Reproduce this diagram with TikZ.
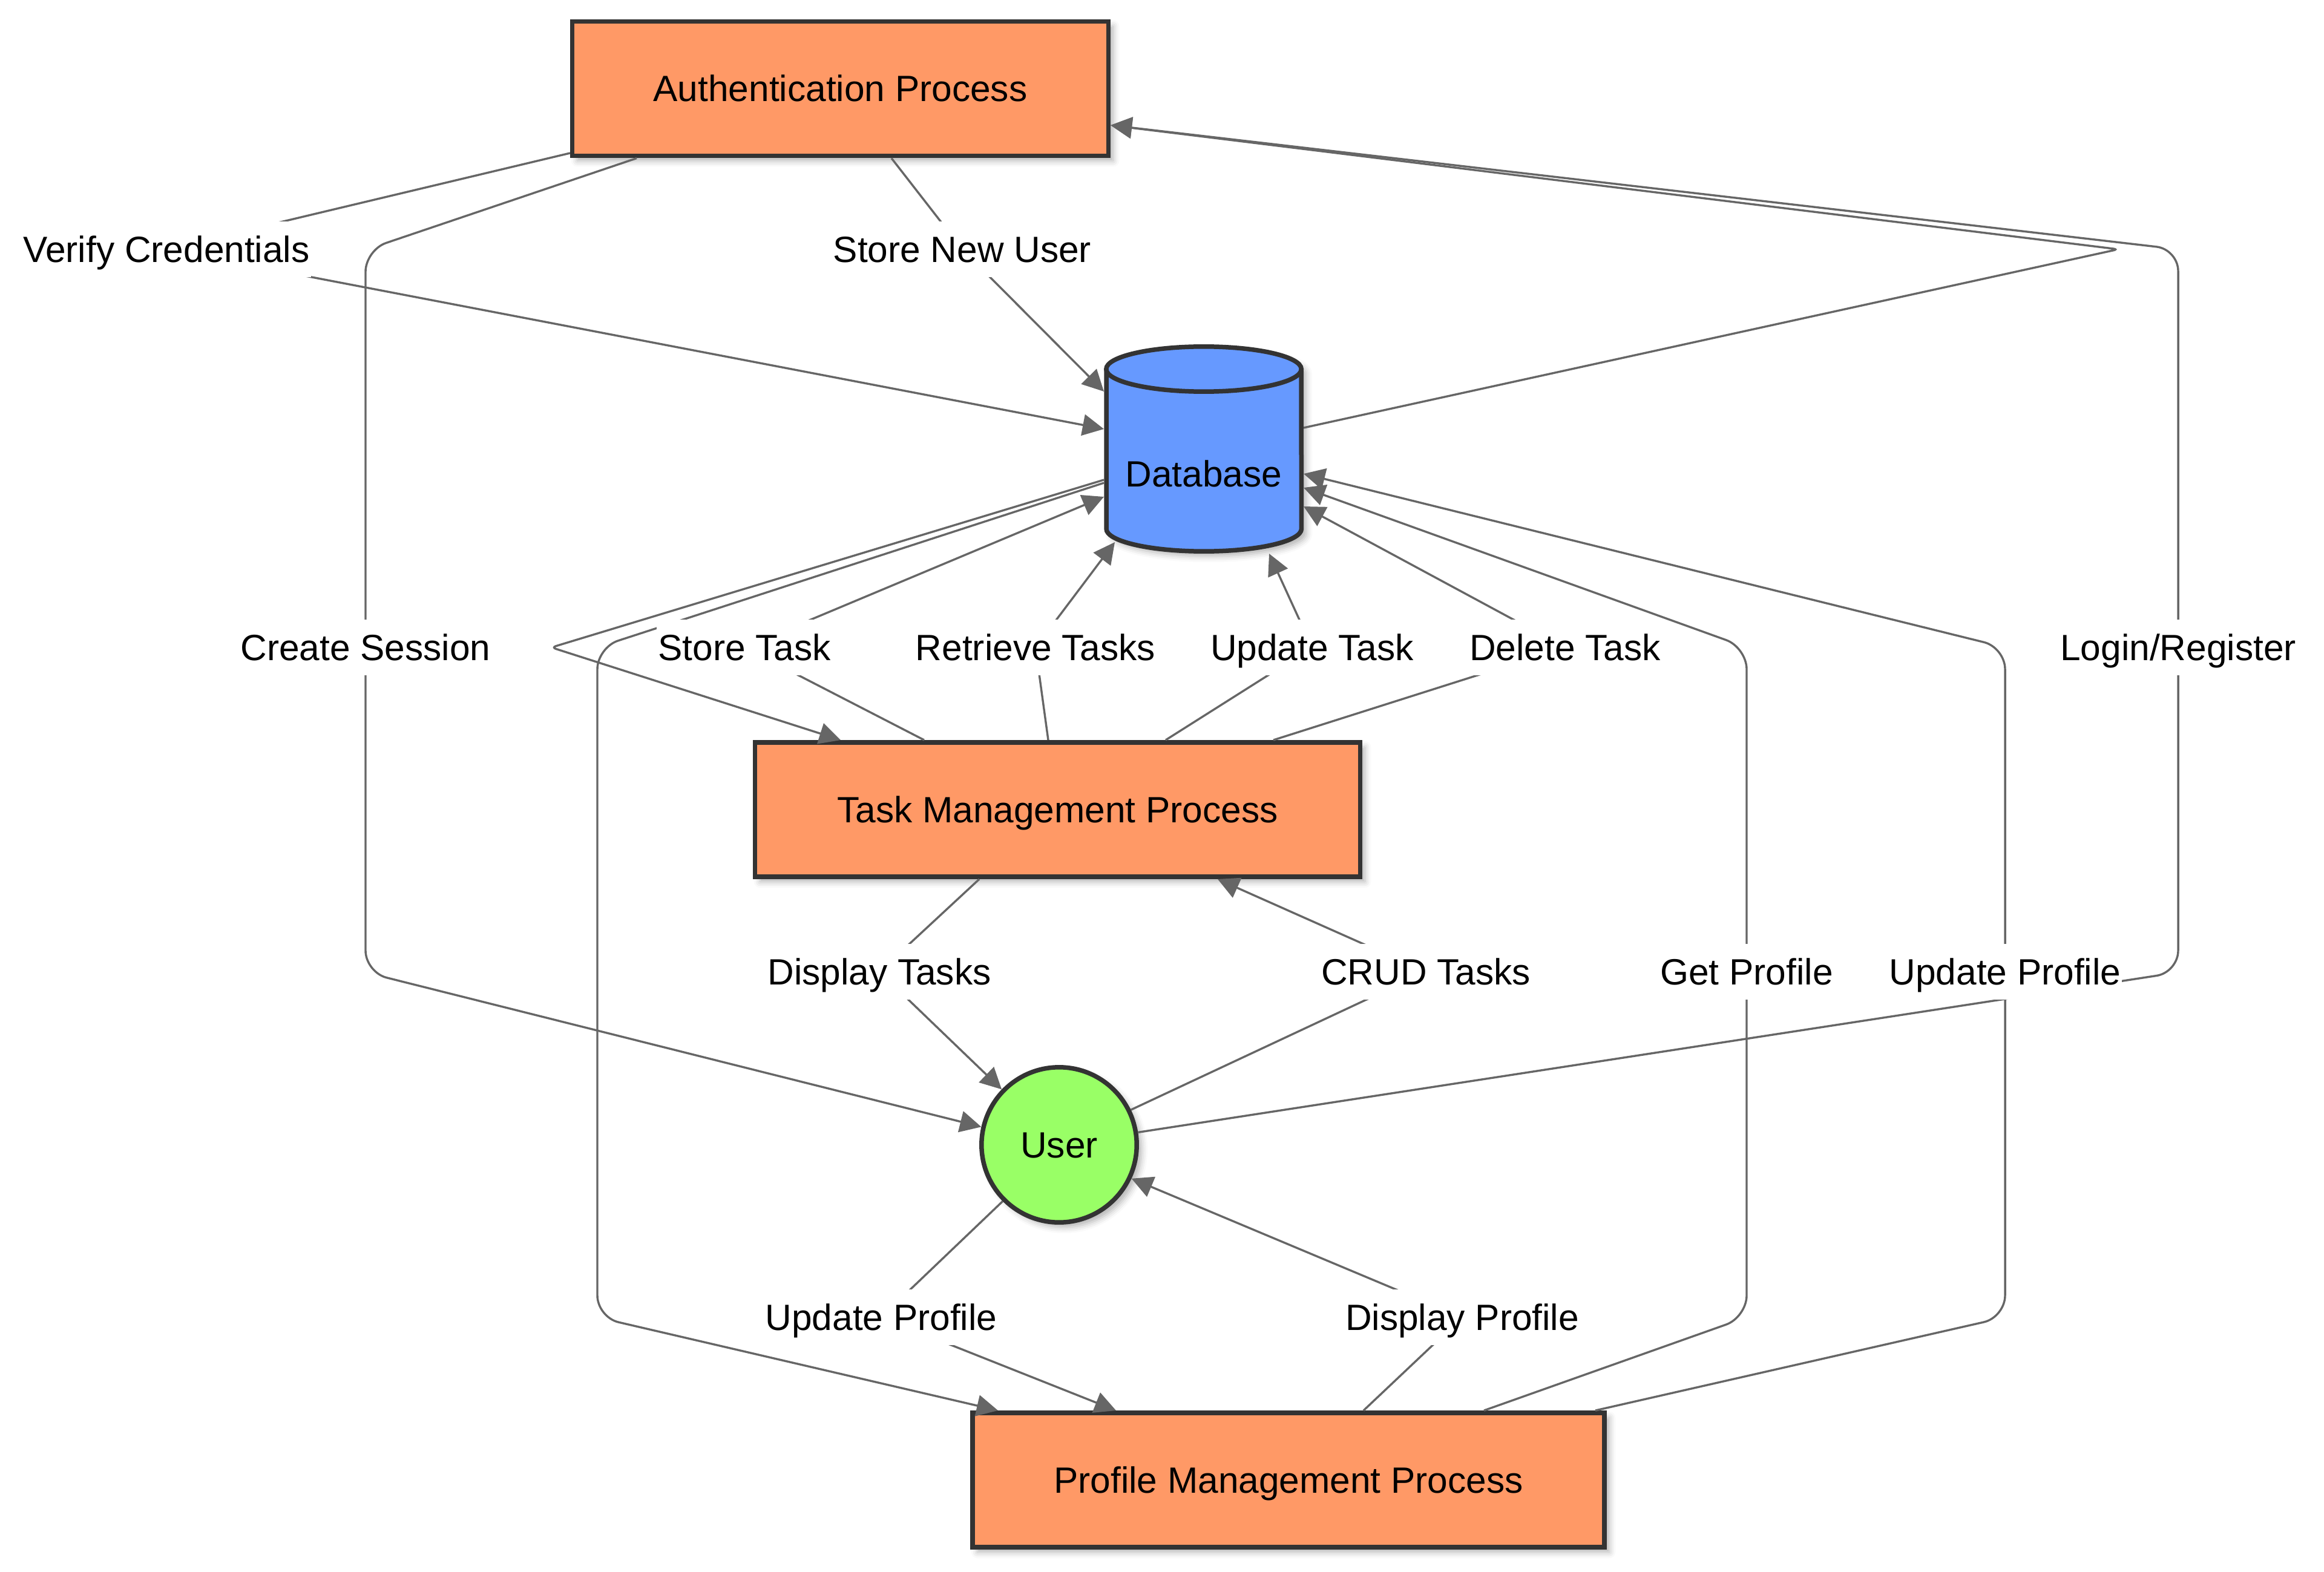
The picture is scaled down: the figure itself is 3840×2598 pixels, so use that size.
\documentclass[tikz,border=0pt]{standalone}
\usepackage{fontspec}
\setmainfont{Liberation Sans}
\usetikzlibrary{arrows.meta,shadows.blur}
\definecolor{procfill}{HTML}{FF9966}
\definecolor{dbfill}{HTML}{6699FF}
\definecolor{userfill}{HTML}{99FF66}
\definecolor{bordercol}{HTML}{333333}
\definecolor{edgecol}{HTML}{666666}
\begin{document}
\begin{tikzpicture}[x=0.25pt,y=-0.25pt,
  font=\fontsize{15.1pt}{18pt}\selectfont,
  every node/.style={text height=11pt,text depth=0.3pt},
  shadowed/.style={blur shadow={shadow xshift=2pt,shadow yshift=-2pt,shadow blur radius=2.5pt,shadow opacity=30}},
  proc/.style={draw=bordercol,line width=1.875pt,fill=procfill,minimum height=55.6pt,inner sep=0pt,shadowed},
  usernode/.style={circle,draw=bordercol,line width=1.875pt,fill=userfill,minimum size=64.1pt,inner sep=0pt,shadowed},
  flow/.style={draw=edgecol,line width=0.85pt,rounded corners=9pt,-{Triangle[length=8.8pt,width=8.8pt]}},
  sharpflow/.style={flow,rounded corners=2pt},
  lbl/.style={fill=white,inner xsep=0.5pt,inner ysep=0pt,minimum height=23pt,text=black},
]
\useasboundingbox (0,0) rectangle (3840,2598);

% ---------- nodes ----------
\node[proc,minimum width=221.4pt] (auth) at (1388.5,146.5) {Authentication Process};
\node[proc,minimum width=249.9pt] (tm) at (1747.5,1338) {Task Management Process};
\node[proc,minimum width=261.1pt] (prof) at (2129,2446) {Profile Management Process};
\node[usernode] (user) at (1750,1892) {User};

% database cylinder
\fill[dbfill,shadowed] (1828,610) -- (1828,874)
  arc[start angle=180,end angle=360,x radius=40.3pt,y radius=9.3pt]
  -- (2150,610) arc[start angle=0,end angle=180,x radius=40.3pt,y radius=9.3pt] -- cycle;
\draw[bordercol,line width=1.875pt] (1828,610) -- (1828,874)
  arc[start angle=180,end angle=360,x radius=40.3pt,y radius=9.3pt] -- (2150,610);
\draw[bordercol,line width=1.875pt] (1989,610) ellipse[x radius=40.3pt,y radius=9.3pt];
\node[minimum width=82.5pt,minimum height=66pt,inner sep=0pt,outer sep=0pt] (db) at (1989,783) {Database};

% ---------- label positions and bends ----------
\coordinate (cVC) at (275,412);
\coordinate (cSNU) at (1590,412);
\coordinate (cCS) at (604,1070);
\coordinate (cCS1) at (604,413);
\coordinate (cCS2) at (604,1607);
\coordinate (cST) at (1230,1070);
\coordinate (cRT) at (1711,1070);
\coordinate (cUT) at (2168,1070);
\coordinate (cDT) at (2586,1070);
\coordinate (cLR) at (3599,1070);
\coordinate (cLR1) at (3599,1607);
\coordinate (cLR2) at (3599,412);
\coordinate (cDA) at (3500,412);
\coordinate (cDTM) at (911,1070);
\coordinate (cDTk) at (1453,1606);
\coordinate (cCRUD) at (2356,1606);
\coordinate (cGP) at (2886,1606);
\coordinate (cGP1) at (2886,2177);
\coordinate (cGP2) at (2886,1070);
\coordinate (cUPR) at (3313,1606);
\coordinate (cUP1) at (3313,2177);
\coordinate (cUP2) at (3313,1070);
\coordinate (cDP1) at (987,1070);
\coordinate (cDP2) at (987,2177);
\coordinate (cUPL) at (1456,2177);
\coordinate (cDPr) at (2416,2177);

% ---------- connectors ----------
\draw[flow] (user.9) -- (cLR1) -- (cLR2) -- ([shift={(0,60.5)}]auth.east);
\draw[flow] ([shift={(0,106.5)}]auth.west) -- (cVC) -- ([shift={(0,-74)}]db.west);
\draw[flow] ([shift={(84.5,0)}]auth.south) -- (cSNU) -- ([shift={(0,-136)}]db.west);
\draw[flow] ([shift={(-336.5,0)}]auth.south) -- (cCS1) -- (cCS2) -- (user.167.6);
\draw[sharpflow] ([shift={(0,-76)}]db.east) -- (cDA) -- ([shift={(0,60.5)}]auth.east);
\draw[flow] (user.26.4) -- (cCRUD) -- ([shift={(264.5,0)}]tm.south);
\draw[flow] ([shift={(-220.5,0)}]tm.north) -- (cST) -- ([shift={(0,38)}]db.west);
\draw[flow] ([shift={(-15.5,0)}]tm.north) -- (cRT) -- ([shift={(18,-19)}]db.south west);
\draw[flow] ([shift={(178.5,0)}]tm.north) -- (cUT) -- ([shift={(108,0)}]db.south);
\draw[flow] ([shift={(356.5,0)}]tm.north) -- (cDT) -- ([shift={(0,54)}]db.east);
\draw[sharpflow] ([shift={(0,10)}]db.west) -- (cDTM) -- ([shift={(-358.5,0)}]tm.north);
\draw[flow] ([shift={(-129.5,0)}]tm.south) -- (cDTk) -- (user.136);
\draw[flow] (user.225) -- (cUPL) -- ([shift={(-285,0)}]prof.north);
\draw[flow] ([shift={(323,0)}]prof.north) -- (cGP1) -- (cGP2) -- ([shift={(0,23)}]db.east);
\draw[flow] ([shift={(507,0)}]prof.north) -- (cUP1) -- (cUP2) -- (db.east);
\draw[flow] ([shift={(0,15)}]db.west) -- (cDP1) -- (cDP2) -- ([shift={(-480,0)}]prof.north);
\draw[flow] ([shift={(124,0)}]prof.north) -- (cDPr) -- (user.335.6);

% ---------- edge labels ----------
\node[lbl] (lVC) at (cVC) {Verify Credentials};
\node[lbl] (lSNU) at (cSNU) {Store New User};
\node[lbl] (lCS) at (cCS) {Create Session};
\node[lbl] (lST) at (cST) {Store Task};
\node[lbl] (lRT) at (cRT) {Retrieve Tasks};
\node[lbl] (lUT) at (cUT) {Update Task};
\node[lbl] (lDT) at (cDT) {Delete Task};
\node[lbl] (lLR) at (cLR) {Login/Register};
\node[lbl] (lDTk) at (cDTk) {Display Tasks};
\node[lbl] (lCRUD) at (cCRUD) {CRUD Tasks};
\node[lbl] (lGP) at (cGP) {Get Profile};
\node[lbl] (lUPR) at (cUPR) {Update Profile};
\node[lbl] (lUPL) at (cUPL) {Update Profile};
\node[lbl] (lDPr) at (cDPr) {Display Profile};
\end{tikzpicture}
\end{document}
